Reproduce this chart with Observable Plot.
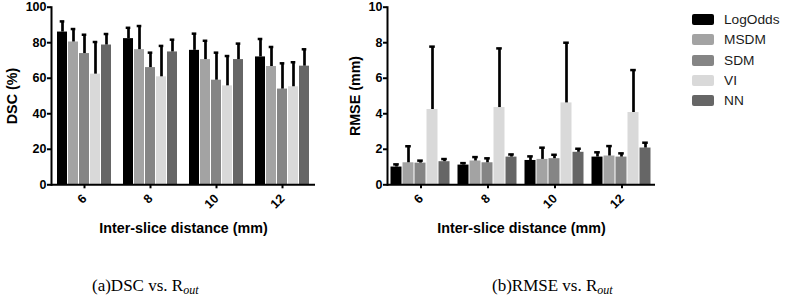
<!DOCTYPE html>
<html>
<head>
<meta charset="utf-8">
<script src="https://cdn.jsdelivr.net/npm/d3@7"></script>
<script src="https://cdn.jsdelivr.net/npm/@observablehq/plot@0.6"></script>
<style>
  html, body { margin: 0; padding: 0; background: #fff; }
  #root { position: relative; width: 785px; height: 298px; overflow: hidden; background: #fff; font-family: "Liberation Sans", Arial, sans-serif; }
  .panel { position: absolute; top: 0; }
  .panel svg { overflow: visible; }
  g[aria-label="fx-axis label"] text, g[aria-label="y-axis label"] text { font-size: 14.3px; }
  .cap { position: absolute; font-family: "Liberation Serif", "Times New Roman", serif; font-size: 17px; line-height: 17px; color: #000; white-space: nowrap; }
  .cap sub { font-style: italic; font-size: 12px; vertical-align: -3px; line-height: 0; }
  #legend { position: absolute; left: 692px; top: 9.5px; }
  .lg-swatch { height: 20.25px !important; margin: 0 !important; padding: 0 !important; display: flex !important; align-items: center; }
  .lg-swatch svg { margin-right: 10px !important; }
  .lg-swatch rect { rx: 2px; ry: 2px; }
</style>
</head>
<body>
<div id="root">
  <div id="left" class="panel" style="left:0px"></div>
  <div id="right" class="panel" style="left:340px"></div>
  <div id="legend"></div>
  <div class="cap" style="left:92px; top:277px">(a)DSC vs. R<sub>out</sub></div>
  <div class="cap" style="left:492px; top:277px">(b)RMSE vs. R<sub>out</sub></div>
</div>
<script>
const groups = ["6", "8", "10", "12"];
const methods = ["LogOdds", "MSDM", "SDM", "VI", "NN"];
const colors = ["#000000", "#a3a3a3", "#858585", "#d9d9d9", "#666666"];

// DSC (%) per group (rows) and method (columns)
const dscMean = [
  [86.0, 80.4, 73.9, 62.3, 78.7],
  [82.3, 76.1, 66.0, 60.8, 74.8],
  [75.7, 70.5, 58.9, 55.7, 70.5],
  [72.0, 66.6, 53.9, 55.2, 66.8]
];
const dscUpper = [
  [92.0, 87.7, 84.5, 80.4, 84.9],
  [88.4, 89.4, 74.4, 78.2, 81.7],
  [85.1, 81.1, 74.4, 72.5, 79.5],
  [82.1, 77.6, 68.4, 69.0, 76.3]
];
// RMSE (mm)
const rmseMean = [
  [1.00, 1.24, 1.22, 4.24, 1.30],
  [1.11, 1.34, 1.24, 4.35, 1.56],
  [1.37, 1.43, 1.47, 4.61, 1.83],
  [1.56, 1.62, 1.56, 4.07, 2.07]
];
const rmseUpper = [
  [1.15, 2.17, 1.36, 7.78, 1.45],
  [1.22, 1.56, 1.49, 7.68, 1.71],
  [1.60, 2.09, 1.69, 8.00, 2.03],
  [1.83, 2.18, 1.77, 6.46, 2.37]
];
const dscTicks = [0, 20, 40, 60, 80, 100];
const rmseTicks = [0, 2, 4, 6, 8, 10];

function rowsOf(means, uppers) {
  const rows = [];
  groups.forEach((g, i) => methods.forEach((m, j) => rows.push({group: g, method: m, value: means[i][j], upper: uppers[i][j]})));
  return rows;
}

function chart({means, uppers, ticks, label, labelOffset, marginLeft, marginRight, width}) {
  const rows = rowsOf(means, uppers);
  return Plot.plot({
    width, height: 245,
    marginTop: 6.7, marginBottom: 60.7, marginLeft, marginRight,
    style: {fontFamily: "'Liberation Sans', Arial, sans-serif", fontWeight: "bold", fontSize: "12.5px", color: "#000", background: "transparent"},
    fx: {domain: groups, padding: 0},
    x: {domain: methods, paddingInner: 0.076, paddingOuter: 0.32, axis: null},
    y: {domain: [ticks[0], ticks[ticks.length - 1]]},
    color: {domain: methods, range: colors},
    marks: [
      Plot.barY(rows, {fx: "group", x: "method", y: "value", fill: "method"}),
      Plot.ruleX(rows, {fx: "group", x: "method", y1: "value", y2: "upper", stroke: "#000", strokeWidth: 2.7}),
      Plot.tickY(rows, {fx: "group", x: "method", y: "upper", stroke: "#000", strokeWidth: 2.5, insetLeft: 2.7, insetRight: 2.7}),
      Plot.ruleY([0], {stroke: "#000", strokeWidth: 2}),
      Plot.frame({anchor: "left", facetAnchor: "left", stroke: "#000", strokeWidth: 2}),
      Plot.axisY({ticks, tickSize: 4, tickPadding: 1, strokeWidth: 2, fontSize: 12.5, label, labelArrow: false, labelAnchor: "center", labelOffset}),
      Plot.axisFx({anchor: "bottom", tickRotate: -45, tickSize: 4, strokeWidth: 2, fontSize: 12.5, label: "Inter-slice distance (mm)", labelArrow: false, labelAnchor: "center", labelOffset: 48.5})
    ]
  });
}

document.getElementById("left").append(chart({means: dscMean, uppers: dscUpper, ticks: dscTicks, label: "DSC (%)", labelOffset: 45, marginLeft: 49, marginRight: 19, width: 335}));
document.getElementById("right").append(chart({means: rmseMean, uppers: rmseUpper, ticks: rmseTicks, label: "RMSE (mm)", labelOffset: 38, marginLeft: 46.5, marginRight: 20, width: 335}));

const leg = Plot.legend({
  color: {domain: methods, range: colors},
  legend: "swatches",
  columns: 1,
  swatchWidth: 22,
  swatchHeight: 11,
  className: "lg",
  style: {fontSize: "13.7px", fontFamily: "'Liberation Sans', Arial, sans-serif", color: "#1a1a1a", margin: 0}
});
document.getElementById("legend").append(leg);
</script>
</body>
</html>
